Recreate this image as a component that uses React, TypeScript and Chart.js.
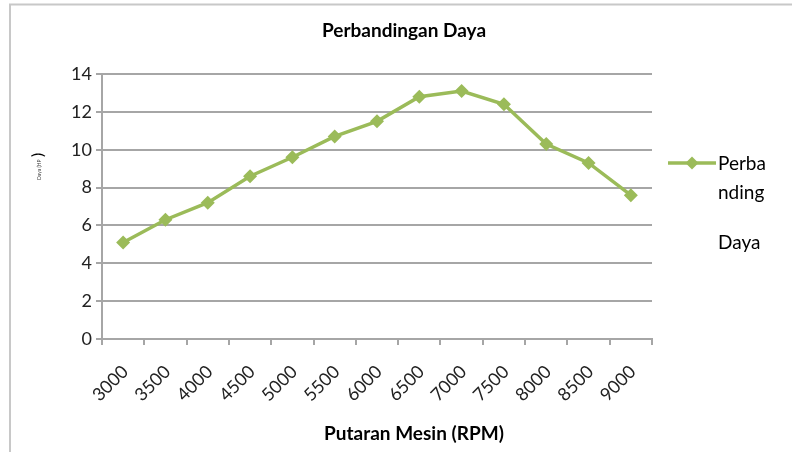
import React, { useEffect, useRef } from "react";
import { Chart, registerables } from "chart.js";

Chart.register(...registerables);

const categories = ["3000", "3500", "4000", "4500", "5000", "5500", "6000", "6500", "7000", "7500", "8000", "8500", "9000"];
const dayaValues = [5.1, 6.3, 7.2, 8.6, 9.6, 10.7, 11.5, 12.8, 13.1, 12.4, 10.3, 9.3, 7.6];
const seriesName = "Perbandingan Daya";
const legendLines = ["Perba", "nding", "", "Daya"];
const chartTitle = "Perbandingan Daya";
const xTitle = "Putaran Mesin (RPM)";
const yTitleSmall = "Daya (HP";
const yTitleParen = ")";

const GREEN = "#9BBB59";
const FONT = "Lato, 'Open Sans', sans-serif";

const overlayPlugin = {
  id: "overlay",
  beforeDraw(chart: any) {
    const ctx = chart.ctx;
    ctx.save();
    ctx.strokeStyle = "#c8c8c8";
    ctx.lineWidth = 2;
    ctx.beginPath();
    ctx.moveTo(10, 452);
    ctx.lineTo(10, 4.5);
    ctx.lineTo(792, 4.5);
    ctx.stroke();
    ctx.restore();
  },
  afterDraw(chart: any) {
    const ctx = chart.ctx;
    ctx.save();
    ctx.fillStyle = "#000";
    ctx.textAlign = "center";
    ctx.textBaseline = "middle";
    ctx.font = `bold 19px ${FONT}`;
    ctx.fillText(chartTitle, 404, 31);
    ctx.font = `bold 19px ${FONT}`;
    ctx.fillText(xTitle, 414, 434);

    // y-axis title (tiny)
    ctx.save();
    ctx.translate(39, 168);
    ctx.rotate(-Math.PI / 2);
    ctx.textAlign = "left";
    ctx.font = `5px ${FONT}`;
    ctx.fillStyle = "#444";
    ctx.fillText(yTitleSmall, -12, 0);
    ctx.font = `16px ${FONT}`;
    ctx.fillStyle = "#000";
    ctx.fillText(yTitleParen, 11, -1);
    ctx.restore();

    // legend
    const ly = 163;
    ctx.strokeStyle = GREEN;
    ctx.lineWidth = 3.5;
    ctx.beginPath();
    ctx.moveTo(668, ly);
    ctx.lineTo(716, ly);
    ctx.stroke();
    ctx.fillStyle = GREEN;
    ctx.beginPath();
    const cx = 692, r = 6.5;
    ctx.moveTo(cx, ly - r);
    ctx.lineTo(cx + r, ly);
    ctx.lineTo(cx, ly + r);
    ctx.lineTo(cx - r, ly);
    ctx.closePath();
    ctx.fill();
    ctx.fillStyle = "#000";
    ctx.textAlign = "left";
    ctx.font = `19px ${FONT}`;
    const ys = [164, 193, 218, 243];
    legendLines.forEach((t, i) => {
      if (t) ctx.fillText(t, 718, ys[i]);
    });
    ctx.restore();
  },
};

export default function App() {
  const ref = useRef<HTMLCanvasElement>(null);
  useEffect(() => {
    if (!ref.current) return;
    const chart = new Chart(ref.current, {
      type: "line",
      data: {
        labels: categories,
        datasets: [
          {
            label: seriesName,
            data: dayaValues,
            borderColor: GREEN,
            backgroundColor: GREEN,
            borderWidth: 3.5,
            pointStyle: "rectRot",
            pointRadius: 7,
            pointBorderWidth: 0,
            pointBackgroundColor: GREEN,
            tension: 0,
          },
        ],
      },
      plugins: [overlayPlugin],
      options: {
        animation: false,
        responsive: false,
        maintainAspectRatio: false,
        layout: { padding: { left: 0, right: 140, top: 74, bottom: 0 } },
        plugins: {
          legend: { display: false },
          title: { display: false },
          tooltip: { enabled: false },
        },
        scales: {
          x: {
            offset: true,
            grid: {
              offset: true,
              drawOnChartArea: false,
              drawTicks: true,
              tickLength: 6,
              color: "#a6a6a6",
              lineWidth: 2,
            },
            border: { color: "#a6a6a6", width: 2 },
            ticks: {
              minRotation: 45,
              maxRotation: 45,
              color: "#222",
              font: { family: FONT, size: 18 },
              padding: 16,
              labelOffset: 2,
            },
            afterFit(scale: any) {
              scale.height = 452 - 339;
            },
          },
          y: {
            min: 0,
            max: 14,
            grid: {
              color: "#a6a6a6",
              lineWidth: 2,
              tickLength: 6,
            },
            border: { color: "#a6a6a6", width: 2 },
            ticks: {
              stepSize: 2,
              color: "#222",
              font: { family: FONT, size: 18 },
              padding: 4,
            },
            afterFit(scale: any) {
              scale.width = 102;
            },
          },
        },
      },
    });
    return () => chart.destroy();
  }, []);
  return (
    <div style={{ position: "absolute", left: 0, top: 0, width: 792, height: 452, background: "#fff" }}>
      <canvas ref={ref} width={792} height={452} style={{ width: 792, height: 452 }} />
    </div>
  );
}
